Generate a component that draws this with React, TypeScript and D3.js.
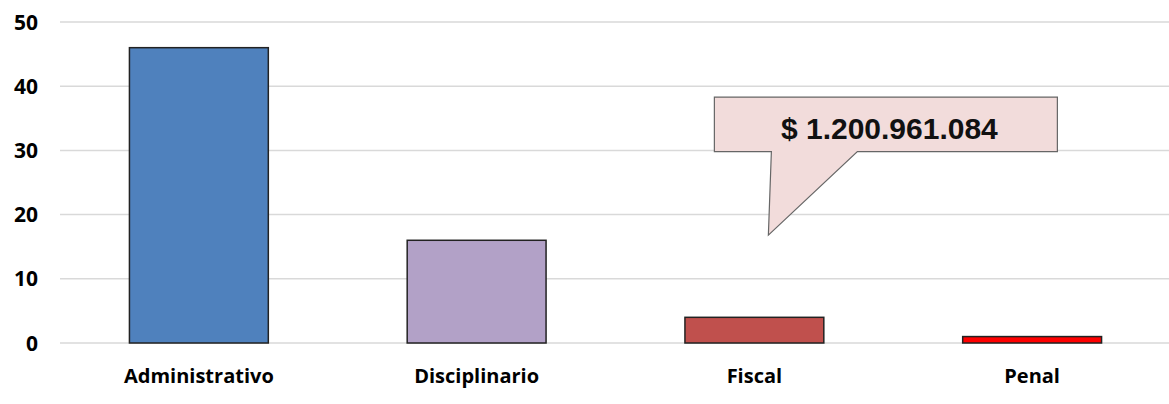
import React, { useRef, useEffect } from "react";
import * as d3 from "d3";

const categories = ["Administrativo", "Disciplinario", "Fiscal", "Penal"];
const values = [46, 16, 4, 1];
const colors = ["#4F81BD", "#B2A1C7", "#C0504D", "#FF0000"];
const yTicks = [0, 10, 20, 30, 40, 50];
const calloutText = "$ 1.200.961.084";

const W = 1169;
const H = 404;
const margin = { top: 22, right: -2, bottom: 61, left: 60 };

const App: React.FC = () => {
  const svgRef = useRef<SVGSVGElement | null>(null);

  useEffect(() => {
    if (!svgRef.current) return;
    const svg = d3.select(svgRef.current);
    svg.selectAll("*").remove();

    const x = d3
      .scaleBand()
      .domain(categories)
      .range([margin.left, W - margin.right])
      .paddingInner(0.5)
      .paddingOuter(0.25);
    const y = d3
      .scaleLinear()
      .domain([0, 50])
      .range([H - margin.bottom, margin.top]);

    const font = "'Open Sans', Lato, sans-serif";

    // gridlines
    svg
      .selectAll(".grid")
      .data(yTicks)
      .enter()
      .append("line")
      .attr("x1", margin.left)
      .attr("x2", W)
      .attr("y1", (d) => y(d))
      .attr("y2", (d) => y(d))
      .attr("stroke", "#d9d9d9")
      .attr("stroke-width", 1.5);

    // y labels
    svg
      .selectAll(".ylab")
      .data(yTicks)
      .enter()
      .append("text")
      .attr("x", 38)
      .attr("y", (d) => y(d))
      .attr("dy", "0.36em")
      .attr("text-anchor", "end")
      .style("font-family", font)
      .style("font-weight", "bold")
      .style("font-size", "21px")
      .attr("fill", "#000")
      .text((d) => d);

    // bars
    svg
      .selectAll(".bar")
      .data(values)
      .enter()
      .append("rect")
      .attr("x", (_, i) => x(categories[i])!)
      .attr("y", (d) => y(d))
      .attr("width", x.bandwidth())
      .attr("height", (d) => y(0) - y(d))
      .attr("fill", (_, i) => colors[i])
      .attr("stroke", "#222")
      .attr("stroke-width", 1.5);

    // category labels
    svg
      .selectAll(".xlab")
      .data(categories)
      .enter()
      .append("text")
      .attr("x", (d) => x(d)! + x.bandwidth() / 2)
      .attr("y", 383)
      .attr("text-anchor", "middle")
      .style("font-family", font)
      .style("font-weight", "bold")
      .style("font-size", "20px")
      .attr("fill", "#000")
      .text((d) => d);

    // callout for Fiscal
    const cx = x("Fiscal")! + x.bandwidth() / 2;
    const left = cx - 40;
    const right = cx + 303;
    const top = y(38.3);
    const bottom = y(29.8);
    const tipX = cx + 14;
    const tipY = y(16.8);
    const path = d3.path();
    path.moveTo(left, top);
    path.lineTo(right, top);
    path.lineTo(right, bottom);
    path.lineTo(cx + 103, bottom);
    path.lineTo(tipX, tipY);
    path.lineTo(cx + 17, bottom);
    path.lineTo(left, bottom);
    path.closePath();
    svg
      .append("path")
      .attr("d", path.toString())
      .attr("fill", "#F2DCDB")
      .attr("stroke", "#666")
      .attr("stroke-width", 1.2);
    svg
      .append("text")
      .attr("x", cx + 135)
      .attr("y", top + 42)
      .attr("text-anchor", "middle")
      .style("font-family", "'Liberation Sans', Arial, sans-serif")
      .style("font-weight", "bold")
      .style("font-size", "30px")
      .attr("fill", "#111")
      .text(calloutText);
  }, []);

  return (
    <div style={{ position: "absolute", left: 0, top: 0, background: "#fff" }}>
      <svg ref={svgRef} width={W} height={H}></svg>
    </div>
  );
};

export default App;
